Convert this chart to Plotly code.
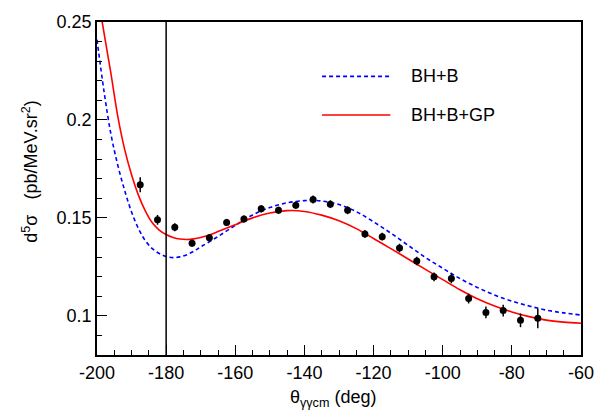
import plotly.graph_objects as go

# ---- data ----
theta_data = [-187.5, -182.5, -177.5, -172.5, -167.5, -162.5, -157.5, -152.5,
              -147.5, -142.5, -137.5, -132.5, -127.5, -122.5, -117.5, -112.5,
              -107.5, -102.5, -97.5, -92.5, -87.5, -82.5, -77.5, -72.5]
xsec_data = [0.1669, 0.1490, 0.1452, 0.1371, 0.1398, 0.1477, 0.1494, 0.1546,
             0.1539, 0.1565, 0.1594, 0.1570, 0.1539, 0.1418, 0.1404, 0.1346,
             0.1280, 0.1199, 0.1191, 0.1088, 0.1017, 0.1027, 0.0977, 0.0987]
xsec_err = [0.0038, 0.0025, 0.0020, 0.0018, 0.0018, 0.0018, 0.0018, 0.0018,
            0.0018, 0.0018, 0.0020, 0.0020, 0.0020, 0.0020, 0.0020, 0.0022,
            0.0022, 0.0022, 0.0025, 0.0025, 0.0030, 0.0030, 0.0035, 0.0050]

theta_bhb = [-200, -198, -196, -194, -192, -190, -188, -186, -184, -182, -180,
             -178, -176, -174, -172, -170, -165, -160, -155, -150, -145, -140,
             -137.5, -135, -130, -125, -120, -115, -110, -105, -100, -95, -90,
             -85, -80, -75, -70, -65, -60]
xsec_bhb = [0.241, 0.215, 0.193, 0.177, 0.164, 0.1530, 0.1445, 0.1383, 0.1343,
            0.1318, 0.1303, 0.1297, 0.1301, 0.1312, 0.1330, 0.1352, 0.1405,
            0.1462, 0.1515, 0.1553, 0.1577, 0.1588, 0.1589, 0.1586, 0.1568,
            0.1532, 0.1480, 0.1422, 0.1360, 0.1298, 0.1243, 0.1190, 0.1145,
            0.1106, 0.1075, 0.1050, 0.1029, 0.1015, 0.1004]

theta_gp = [-199.5, -198.5, -196, -194, -192, -190, -188, -186, -184, -182, -180,
            -178, -176, -174, -172, -170, -168, -165, -160, -155, -150, -145,
            -140, -135, -130, -125, -120, -115, -110, -105,
            -100, -95, -90, -85, -80, -75, -70, -65, -60]
xsec_gp = [0.262, 0.250, 0.224, 0.202, 0.185, 0.172, 0.1615, 0.1535, 0.1475,
           0.1438, 0.1415, 0.1400, 0.1392, 0.1390, 0.1393, 0.1400, 0.1410,
           0.1430, 0.1465, 0.1500, 0.1525, 0.1537, 0.1533, 0.1514,
           0.1485, 0.1445, 0.1395, 0.1343, 0.1290, 0.1237, 0.1185,
           0.1133, 0.1087, 0.1050, 0.1020, 0.0996, 0.0978, 0.0968, 0.0962]

x_tickvals = [-200, -180, -160, -140, -120, -100, -80, -60]
x_ticktext = ["-200", "-180", "-160", "-140", "-120", "-100", "-80", "-60"]

FONT = "Liberation Sans, Arial, Helvetica, sans-serif"

fig = go.Figure()
fig.add_trace(go.Scatter(x=theta_bhb, y=xsec_bhb, mode="lines",
                         line=dict(color="#0000ff", width=1.6, dash="4px,3px", shape="spline"),
                         showlegend=False))
fig.add_trace(go.Scatter(x=theta_gp, y=xsec_gp, mode="lines",
                         line=dict(color="#ff0000", width=1.6, shape="spline"),
                         showlegend=False))
fig.add_trace(go.Scatter(x=theta_data, y=xsec_data, mode="markers",
                         marker=dict(color="black", size=7),
                         error_y=dict(type="data", array=xsec_err, color="black",
                                      thickness=1.5, width=0),
                         showlegend=False))

# vertical line at -180
fig.add_shape(type="line", x0=-180, x1=-180, xref="x", y0=0, y1=1, yref="paper",
              line=dict(color="black", width=1.5))

# manual legend
leg = [("BH+B", "#0000ff", "4px,3px", 0.8366), ("BH+B+GP", "#ff0000", "solid", 0.7207)]
for name, col, dash, yy in leg:
    fig.add_shape(type="line", xref="paper", yref="paper", x0=0.465, x1=0.606,
                  y0=yy, y1=yy, line=dict(color=col, width=1.6, dash=dash))
    fig.add_annotation(text=name, xref="paper", yref="paper", x=0.6436, y=yy,
                       xanchor="left", yanchor="middle", showarrow=False,
                       font=dict(size=18, color="black", family=FONT))

# axis titles
fig.add_annotation(text="θ<sub>γγcm</sub> (deg)", xref="paper", yref="paper",
                   x=0.488, y=-0.13, xanchor="center", yanchor="middle",
                   showarrow=False, font=dict(size=18, color="black", family=FONT))
fig.add_annotation(text="d<sup>5</sup>σ\u00a0\u00a0\u00a0(pb/MeV.sr<sup>2</sup>)", xref="paper", yref="paper",
                   x=-0.138, y=0.551, xanchor="center", yanchor="middle", textangle=-90,
                   showarrow=False, font=dict(size=18, color="black", family=FONT))

fig.update_layout(
    width=608, height=414,
    margin=dict(l=97, r=27, t=19, b=58.5),
    paper_bgcolor="white", plot_bgcolor="white",
    font=dict(family=FONT, size=18, color="black"),
    xaxis=dict(range=[-200, -60], tickvals=x_tickvals, ticktext=x_ticktext,
               ticks="inside", ticklen=10, tickwidth=1.2, tickcolor="black",
               showline=True, linecolor="black", linewidth=1.8, mirror=True,
               showgrid=False, zeroline=False,
               minor=dict(dtick=5, tick0=-200, ticks="inside", ticklen=5,
                          tickwidth=1.2, tickcolor="black", showgrid=False),
               tickfont=dict(size=18)),
    yaxis=dict(range=[0.08, 0.25], dtick=0.05, tick0=0,
               ticks="inside", ticklen=10, tickwidth=1.2, tickcolor="black",
               showline=True, linecolor="black", linewidth=1.8, mirror=True,
               showgrid=False, zeroline=False,
               minor=dict(dtick=0.01, tick0=0, ticks="inside", ticklen=5,
                          tickwidth=1.2, tickcolor="black", showgrid=False),
               tickfont=dict(size=18)),
)

fig.write_html("out.html")
